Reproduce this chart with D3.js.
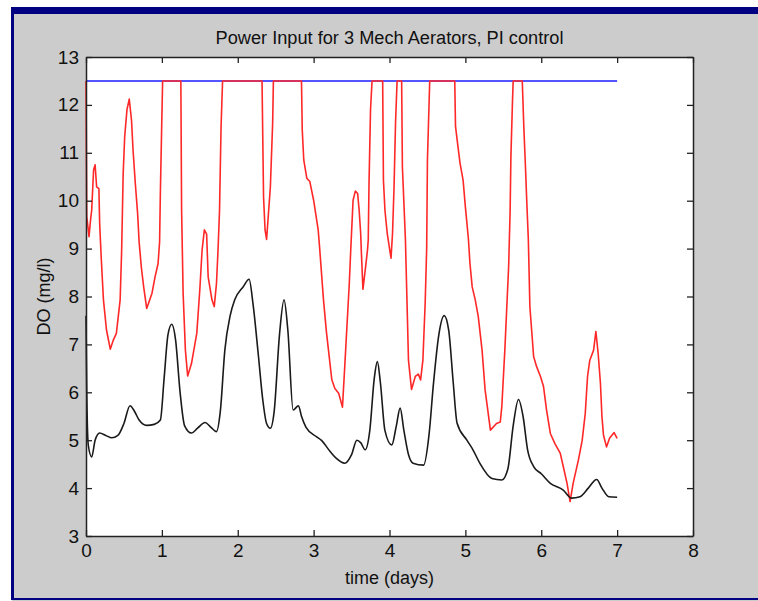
<!DOCTYPE html>
<html>
<head>
<meta charset="utf-8">
<script src="https://cdn.jsdelivr.net/npm/d3@7"></script>
<style>
  body { margin: 0; background: #fff; }
  text { font-family: "Liberation Sans", Arial, sans-serif; fill: #111; }
</style>
</head>
<body>
<div id="chart"></div>
<script>
// Data
const blueT = [0, 7];
const blueDO = [12.5, 12.5];

const redT = [0, 0.01, 0.04, 0.06, 0.075, 0.1, 0.12, 0.14, 0.17, 0.18, 0.2, 0.23, 0.27, 0.32, 0.36, 0.40, 0.45, 0.47, 0.49, 0.51, 0.54, 0.57, 0.6, 0.62, 0.65, 0.68, 0.70, 0.73, 0.76, 0.80, 0.87, 0.91, 0.95, 0.97, 0.98, 1.0, 1.01,
  1.25, 1.26, 1.28, 1.31, 1.34, 1.39, 1.46, 1.5, 1.53, 1.56, 1.59, 1.61, 1.66, 1.69, 1.72, 1.74, 1.76, 1.78, 1.80,
  2.32, 2.34, 2.36, 2.38, 2.43, 2.46, 2.47,
  2.84, 2.85, 2.87, 2.91, 2.95, 3.0, 3.06, 3.08, 3.13, 3.17, 3.24, 3.28, 3.33, 3.38, 3.41, 3.47, 3.49, 3.52, 3.55, 3.58, 3.60, 3.62, 3.63, 3.65, 3.68, 3.71, 3.72, 3.73, 3.75, 3.77,
  3.91, 3.92, 3.94, 3.97, 4.02, 4.04, 4.06, 4.08, 4.10,
  4.16, 4.17, 4.21, 4.23, 4.25, 4.29, 4.34, 4.38, 4.41, 4.44, 4.47, 4.49, 4.50, 4.53,
  4.86, 4.87, 4.90, 4.93, 4.97, 5.0, 5.04, 5.06, 5.09, 5.13, 5.17, 5.22, 5.26, 5.33, 5.41, 5.46, 5.48, 5.52, 5.57, 5.59, 5.60, 5.62, 5.63,
  5.75, 5.77, 5.79, 5.81, 5.83, 5.84, 5.85, 5.90, 5.94, 5.99, 6.03, 6.07, 6.12, 6.18, 6.25, 6.29, 6.34, 6.38, 6.42, 6.49, 6.54, 6.58, 6.61, 6.64, 6.69, 6.72, 6.75, 6.78, 6.80, 6.82, 6.86, 6.90, 6.96, 7.0];
const redDO = [12.5, 9.67, 9.25, 9.6, 9.8, 10.64, 10.75, 10.29, 10.25, 9.53, 8.83, 7.93, 7.3, 6.9, 7.09, 7.23, 7.93, 8.97, 10.57, 11.34, 11.9, 12.12, 11.68, 11.06, 10.36, 9.74, 9.14, 8.6, 8.2, 7.75, 8.07, 8.41, 8.69, 9.14, 10.15, 11.75, 12.5,
  12.5, 9.8, 8.07, 6.88, 6.34, 6.6, 7.23, 8.14, 8.97, 9.39, 9.3, 8.41, 7.93, 7.79, 8.28, 8.97, 9.8, 11.55, 12.5,
  12.5, 10.08, 9.39, 9.19, 10.29, 11.62, 12.5,
  12.5, 11.48, 10.85, 10.47, 10.4, 10.01, 9.39, 9.0, 7.93, 7.24, 6.26, 6.08, 5.98, 5.69, 6.53, 8.27, 9.0, 10.01, 10.2, 10.15, 9.8, 9.32, 8.9, 8.15, 8.55, 8.97, 9.18, 10.36, 11.9, 12.5,
  12.5, 10.43, 9.8, 9.32, 8.8, 9.32, 10.29, 11.65, 12.5,
  12.5, 10.71, 9.18, 7.93, 6.67, 6.06, 6.33, 6.38, 6.26, 6.67, 7.86, 9.0, 10.85, 12.5,
  12.5, 11.55, 11.16, 10.78, 10.43, 9.87, 9.2, 8.7, 8.2, 7.93, 7.58, 6.88, 6.05, 5.21, 5.35, 5.38, 5.70, 6.88, 8.62, 9.8, 10.92, 12.03, 12.5,
  12.5, 11.55, 10.78, 9.95, 9.18, 8.5, 7.79, 6.74, 6.53, 6.33, 6.12, 5.63, 5.14, 4.93, 4.73, 4.45, 4.1, 3.72, 4.1, 4.59, 5.0, 5.56, 6.33, 6.67, 6.88, 7.27, 6.81, 6.19, 5.49, 5.11, 4.86, 5.04, 5.16, 5.04];

const blackT = [0, 0.01, 0.03, 0.075, 0.12, 0.18, 0.26, 0.34, 0.42, 0.5, 0.58, 0.64, 0.7, 0.8, 0.9, 0.98, 1.03, 1.08, 1.13, 1.18, 1.24, 1.3, 1.39, 1.47, 1.57, 1.64, 1.72, 1.77, 1.83, 1.9, 1.96, 2.07, 2.15, 2.2, 2.27, 2.33, 2.38, 2.43, 2.48, 2.55, 2.61, 2.66, 2.73, 2.80, 2.84, 2.9, 3.04, 3.1, 3.22, 3.3, 3.41, 3.5, 3.57, 3.62, 3.68, 3.74, 3.8, 3.84, 3.88, 3.94, 4.03, 4.09, 4.14, 4.19, 4.25, 4.31, 4.45, 4.52, 4.58, 4.65, 4.72, 4.78, 4.84, 4.89, 5.02, 5.1, 5.19, 5.35, 5.48, 5.56, 5.63, 5.70, 5.76, 5.82, 5.90, 6.0, 6.12, 6.29, 6.40, 6.51, 6.62, 6.73, 6.8, 6.89, 7.0];
const blackDO = [7.6, 6.0, 4.9, 4.65, 5.0, 5.15, 5.1, 5.05, 5.1, 5.35, 5.72, 5.6, 5.42, 5.31, 5.33, 5.42, 6.3, 7.2, 7.42, 7.1, 6.0, 5.3, 5.15, 5.25, 5.37, 5.28, 5.18, 5.6, 6.88, 7.6, 7.93, 8.2, 8.36, 7.86, 6.8, 5.84, 5.35, 5.25, 5.6, 7.2, 7.93, 7.3, 5.63, 5.72, 5.5, 5.27, 5.07, 5.0, 4.76, 4.62, 4.52, 4.7, 5.0, 4.95, 4.8, 5.2, 6.3, 6.64, 6.2, 5.2, 4.9, 5.3, 5.67, 5.2, 4.7, 4.52, 4.48, 5.1, 6.19, 7.2, 7.6, 7.3, 6.2, 5.36, 5.0, 4.8, 4.52, 4.2, 4.17, 4.4, 5.3, 5.85, 5.5, 4.8, 4.45, 4.3, 4.1, 3.96, 3.79, 3.82, 4.0, 4.18, 4.0, 3.82, 3.81];

const xTicks = [0, 1, 2, 3, 4, 5, 6, 7, 8];
const yTicks = [3, 4, 5, 6, 7, 8, 9, 10, 11, 12, 13];

const titleText = "Power Input for 3 Mech Aerators, PI control";
const xLabel = "time (days)";
const yLabel = "DO (mg/l)";

const W = 758, H = 601;
const margin = {top: 57, left: 86, right: 65, bottom: 65};
const width = W - margin.left - margin.right;
const height = H - margin.top - margin.bottom;

const svg = d3.select("#chart").append("svg")
    .attr("width", W)
    .attr("height", H);

// window frame
svg.append("rect").attr("x", 12).attr("y", 7).attr("width", W - 12).attr("height", H - 7).attr("fill", "#cccccc");
svg.append("rect").attr("x", 12).attr("y", 7).attr("width", W - 12).attr("height", 7).attr("fill", "#000080");
svg.append("rect").attr("x", 11).attr("y", 7).attr("width", 3).attr("height", H - 8).attr("fill", "#000080");
svg.append("rect").attr("x", 11).attr("y", H - 3).attr("width", W - 11).attr("height", 2).attr("fill", "#000080");

const g = svg.append("g").attr("transform", `translate(${margin.left},${margin.top})`);

const x = d3.scaleLinear().domain([0, 8]).range([0, width]);
const y = d3.scaleLinear().domain([3, 13]).range([height, 0]);

g.append("rect").attr("width", width).attr("height", height).attr("fill", "#fff");

// lines
const series = [
    {t: blueT, v: blueDO, color: "#1c1cff", curve: d3.curveLinear},
    {t: redT, v: redDO, color: "#ff2828", curve: d3.curveLinear},
    {t: blackT, v: blackDO, color: "#1a1a1a", curve: d3.curveMonotoneX}
];
series.forEach(s => {
    const line = d3.line().x(d => x(d[0])).y(d => y(d[1])).curve(s.curve);
    g.append("path")
        .datum(s.t.map((t, i) => [t, s.v[i]]))
        .attr("fill", "none")
        .attr("stroke", s.color)
        .attr("stroke-width", 1.6)
        .attr("stroke-linejoin", "round")
        .attr("d", line);
});

// axes (ticks pointing inward, box all round)
function styleAxis(sel) {
    sel.select(".domain").attr("stroke", "#222").attr("stroke-width", 1.5);
    sel.selectAll(".tick line").attr("stroke", "#222").attr("stroke-width", 1.3);
    sel.selectAll("text").attr("font-size", 19).attr("fill", "#111")
        .attr("font-family", "'Liberation Sans', Arial, sans-serif");
}

g.append("g")
    .attr("transform", `translate(0,${height})`)
    .call(d3.axisBottom(x).tickValues(xTicks).tickFormat(d3.format("d")).tickSizeInner(-6).tickSizeOuter(0).tickPadding(8))
    .call(styleAxis);

g.append("g")
    .call(d3.axisTop(x).tickValues(xTicks).tickFormat("").tickSizeInner(-6).tickSizeOuter(0))
    .call(styleAxis);

g.append("g")
    .call(d3.axisLeft(y).tickValues(yTicks).tickFormat(d3.format("d")).tickSizeInner(-6).tickSizeOuter(0).tickPadding(7))
    .call(styleAxis);

g.append("g")
    .attr("transform", `translate(${width},0)`)
    .call(d3.axisRight(y).tickValues(yTicks).tickFormat("").tickSizeInner(-6).tickSizeOuter(0))
    .call(styleAxis);

// labels
svg.append("text")
    .attr("x", margin.left + width / 2)
    .attr("y", 44)
    .attr("text-anchor", "middle")
    .attr("font-size", 18)
    .attr("textLength", 348)
    .attr("lengthAdjust", "spacingAndGlyphs")
    .text(titleText);

svg.append("text")
    .attr("x", margin.left + width / 2)
    .attr("y", 584)
    .attr("text-anchor", "middle")
    .attr("font-size", 18)
    .text(xLabel);

svg.append("text")
    .attr("transform", `translate(50,${margin.top + height / 2}) rotate(-90)`)
    .attr("text-anchor", "middle")
    .attr("font-size", 18)
    .text(yLabel);
</script>
</body>
</html>
